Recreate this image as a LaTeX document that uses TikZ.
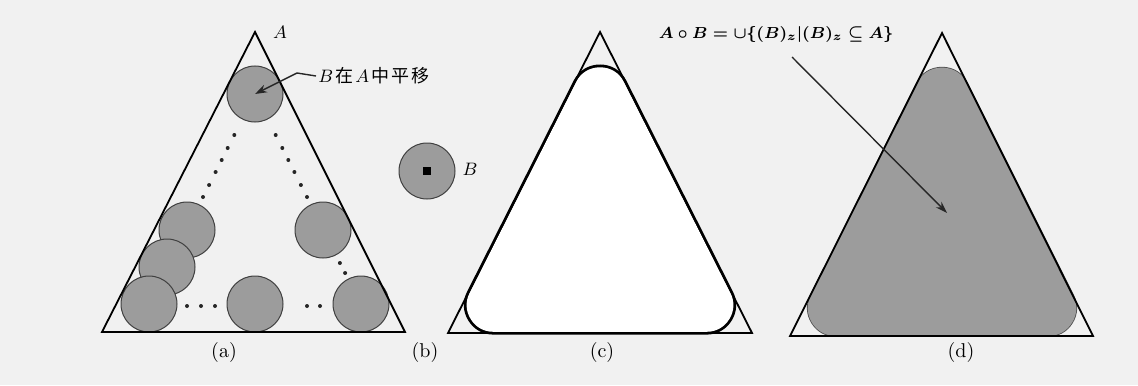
\documentclass[tikz,border=0pt]{standalone}
\usepackage{fontspec}
\newfontfamily\cjk{Noto Sans CJK SC}
\usetikzlibrary{arrows.meta}
\definecolor{bgcol}{HTML}{F1F1F1}
\definecolor{discgray}{HTML}{9C9C9C}
\newcommand{\openformula}{\mbox{{\boldmath$A\circ B=\cup\{(B)_z\vert(B)_z\subseteq A\}$}}}
\newcommand{\transtext}{$B$\hspace{1pt}{\cjk 在}\hspace{1pt}$A$\hspace{1pt}{\cjk 中}\hspace{1pt}{\cjk 平}\hspace{1pt}{\cjk 移}}
\begin{document}
\begin{tikzpicture}[x=0.5pt,y=-0.5pt,
  tri/.style={draw=black, line width=0.9pt, line join=miter},
  disc/.style={circle, fill=discgray, draw=black!75, line width=0.5pt, minimum size=28pt, inner sep=0pt},
  dotm/.style={fill=black!85},
  lab/.style={font=\fontsize{9}{10}\selectfont, inner sep=1pt},
  caplab/.style={font=\fontsize{10}{12}\selectfont, inner sep=1pt},
  formlab/.style={font=\fontsize{8}{10}\selectfont, inner sep=1pt},
  ptr/.style={draw=black!85, line width=0.7pt, -{Stealth[length=6pt,width=4pt]}}]
\fill[bgcol] (0,0) rectangle (1138,385);
\useasboundingbox (0,0) rectangle (1138,385);

% ---------- panel (a) ----------
\node[disc] (a1) at (255,94) {};
\node[disc] (a2) at (187,230) {};
\node[disc] (a3) at (167,267) {};
\node[disc] (a4) at (149,304) {};
\node[disc] (a5) at (255,304) {};
\node[disc] (a6) at (323,230) {};
\node[disc] (a7) at (361,304) {};
\foreach \x/\y in {234.3/135,227.7/148,221.7/160,215.6/172,209.1/185,203.0/197,
                   275.7/135,282.3/148,288.3/160,294.4/172,300.9/185,307.0/197,
                   339.9/263,345.1/273,
                   187/306,201/306,215/306,307/306,320/306}
  \fill[dotm] (\x,\y) circle[radius=2];
\draw[tri] (255,32) -- (102,332) -- (405,332) -- cycle;
\node[lab] (Alab) at (280,32) {$A$};
\node[lab, anchor=west] (trans) at (316,76) {\transtext};
\coordinate (tbend) at (297,73);
\draw[ptr] (trans.west) -- (tbend) -- (a1.center);
\node[caplab] (la) at (224,352) {(a)};

% ---------- panel (b) ----------
\node[disc] (bd) at (427,171) {};
\node[fill=black, minimum size=4pt, inner sep=0pt] (bc) at (bd.center) {};
\node[lab] (Blab) at (470,169) {$B$};
\node[caplab] (lb) at (425,352) {(b)};

% ---------- panel (c) ----------
\filldraw[black, line width=29.6pt, line join=round] (600,94.1) -- (493.5,305) -- (706.5,305) -- cycle;
\filldraw[white, line width=26.8pt, line join=round] (600,94.1) -- (493.5,305) -- (706.5,305) -- cycle;
\draw[tri] (600,32) -- (448,333) -- (752,333) -- cycle;
\node[caplab] (lc) at (602,352) {(c)};

% ---------- panel (d) ----------
\filldraw[black!70, line width=28.8pt, line join=round] (942,95.6) -- (835.8,308) -- (1048.2,308) -- cycle;
\filldraw[discgray, line width=28pt, line join=round] (942,95.6) -- (835.8,308) -- (1048.2,308) -- cycle;
\draw[tri] (942,33) -- (790,336) -- (1093,336) -- cycle;
\node[formlab] (form) at (776,35) {\openformula};
\coordinate (fstart) at (792,57);
\coordinate (fend) at (947,213);
\draw[ptr] (fstart) -- (fend);
\node[caplab] (ld) at (961,352) {(d)};
\end{tikzpicture}
\end{document}
